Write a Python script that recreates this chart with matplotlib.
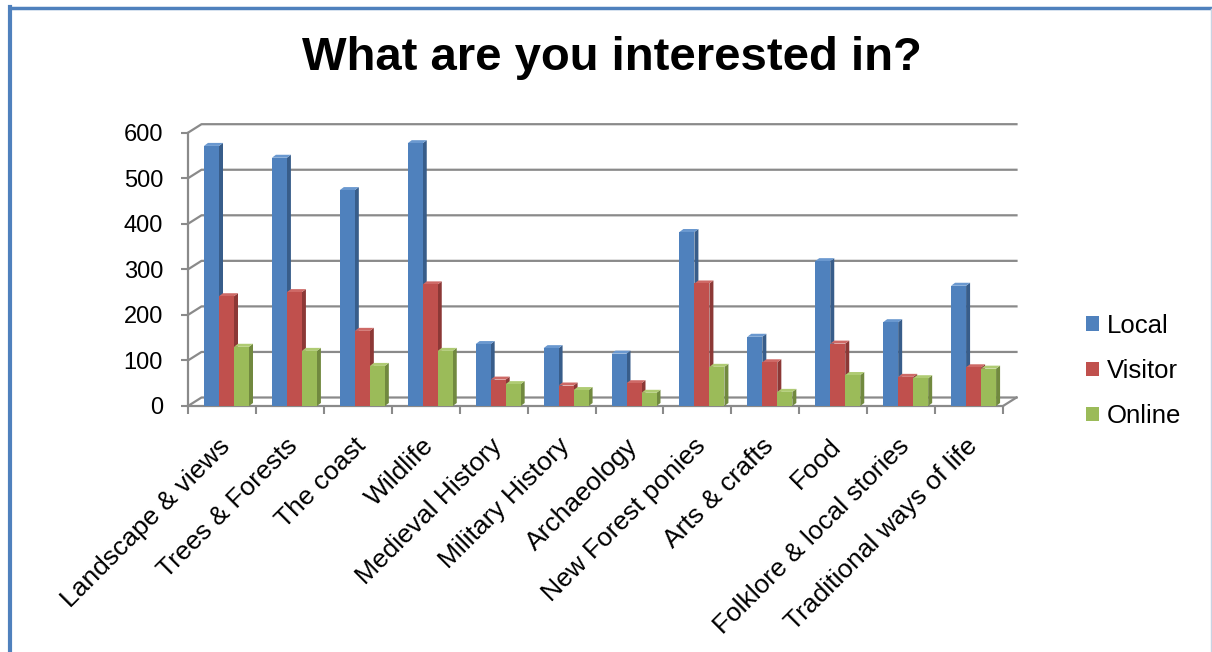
import matplotlib.pyplot as plt
from matplotlib.patches import Polygon
from matplotlib.lines import Line2D
import matplotlib.transforms as mtransforms

categories = ['Landscape & views', 'Trees & Forests', 'The coast', 'Wildlife',
              'Medieval History', 'Military History', 'Archaeology',
              'New Forest ponies', 'Arts & crafts', 'Food',
              'Folklore & local stories', 'Traditional ways of life']
local = [571, 545, 474, 577, 136, 127, 115, 382, 152, 318, 184, 264]
visitor = [241, 250, 165, 267, 58, 45, 50, 269, 96, 137, 64, 85]
online = [130, 121, 88, 121, 48, 35, 29, 86, 31, 68, 61, 82]
series = ['Local', 'Visitor', 'Online']
yticks = [0, 100, 200, 300, 400, 500, 600]

front = ['#4F81BD', '#C0504D', '#9BBB59']
side = ['#385D8A', '#8C3836', '#71893F']
top = ['#6A98CF', '#CE6966', '#AFCB73']

plt.rcParams['font.family'] = ['Liberation Sans', 'DejaVu Sans']

fig = plt.figure(figsize=(12.12, 6.52), dpi=100)
W, H = 1212, 652
# front plot area in pixels: x 188..1003, y(0)=406, y(600)=132.7
ax = fig.add_axes([188 / W, (H - 406) / H, 815 / W, (406 - 132.7) / H])
ax.set_xlim(0, len(categories))
ax.set_ylim(0, 600)

px_x = len(categories) / 815.0   # data units per pixel
px_y = 600 / (406 - 132.7)

grey = '#8A8A8A'
# wall / floor depth offset
wdx, wdy = 13.5 * px_x, 8.5 * px_y
n = len(categories)
for v in yticks:
    ax.plot([0, wdx, n + wdx], [v, v + wdy, v + wdy], color=grey, lw=1.6,
            clip_on=False, zorder=1)
ax.plot([0, n], [0, 0], color=grey, lw=1.6, clip_on=False, zorder=1)
ax.plot([n, n + wdx], [0, wdy], color=grey, lw=1.6, clip_on=False, zorder=1)

# 3D-ish bars
bdx, bdy = 4 * px_x, 3 * px_y
bw = 15 * px_x
start = 16 * px_x
for s, vals in enumerate([local, visitor, online]):
    for i, v in enumerate(vals):
        x0 = i + start + s * bw
        x1 = x0 + bw
        z = 3 + s
        ax.add_patch(Polygon([(x1, 0), (x1 + bdx, bdy), (x1 + bdx, v + bdy), (x1, v)],
                             closed=True, facecolor=side[s], edgecolor='none',
                             zorder=z, clip_on=False))
        ax.add_patch(Polygon([(x0, v), (x0 + bdx, v + bdy), (x1 + bdx, v + bdy), (x1, v)],
                             closed=True, facecolor=top[s], edgecolor='none',
                             zorder=z, clip_on=False))
    ax.bar([i + start + s * bw for i in range(n)], vals, width=bw, align='edge',
           color=front[s], zorder=3 + s, label=series[s], clip_on=False)

for sp in ['top', 'right', 'bottom']:
    ax.spines[sp].set_visible(False)
ax.spines['left'].set_color(grey)
ax.spines['left'].set_linewidth(1.6)

ax.set_yticks(yticks)
ax.set_yticklabels([str(v) for v in yticks], fontsize=17)
ax.tick_params(axis='y', direction='out', length=5, width=1.5, color=grey, pad=13)

ax.set_xticks([i + 0.5 for i in range(n)])
ax.set_xticklabels(categories, fontsize=19, rotation=45, ha='right',
                   rotation_mode='anchor')
ax.tick_params(axis='x', which='major', length=0, pad=20)
shift = mtransforms.ScaledTranslation(-4 / 100, 0, fig.dpi_scale_trans)
for lab in ax.get_xticklabels():
    lab.set_transform(lab.get_transform() + shift)
ax.set_xticks(range(n + 1), minor=True)
ax.tick_params(axis='x', which='minor', direction='out', length=6, width=1.5,
               color=grey)
ax.patch.set_visible(False)

fig.text(612 / W, 1 - 58 / H, 'What are you interested in?', fontsize=34,
         fontweight='bold', ha='center', va='center')

ax.legend(loc='center left', bbox_to_anchor=(1086 / W, 1 - 371 / H),
          bbox_transform=fig.transFigure, frameon=False, fontsize=18.5,
          handlelength=0.5, handleheight=0.5, handletextpad=0.3,
          labelspacing=0.82, borderpad=0, borderaxespad=0)

# frame of the chart
fig.add_artist(Line2D([10 / W, 10 / W], [0, 1 - 7 / H], color='#4F81BD', lw=3,
                      transform=fig.transFigure))
fig.add_artist(Line2D([10 / W, 1], [1 - 7.5 / H, 1 - 7.5 / H], color='#4F81BD', lw=2.5,
                      transform=fig.transFigure))
fig.add_artist(Line2D([1 - 1 / W, 1 - 1 / W], [0, 1 - 9 / H], color='#C9D3E3', lw=1,
                      transform=fig.transFigure))

fig.savefig('out.png', dpi=100)
